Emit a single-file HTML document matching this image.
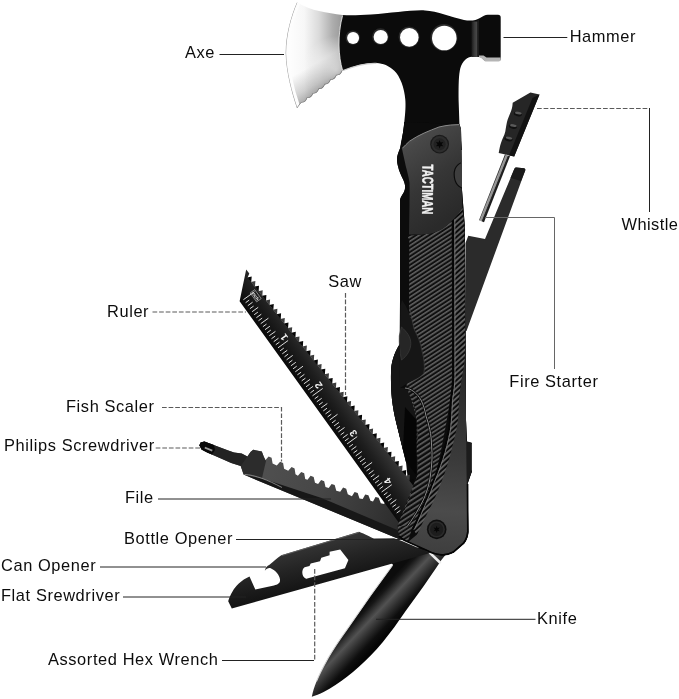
<!DOCTYPE html>
<html><head><meta charset="utf-8">
<style>
html,body{margin:0;padding:0;background:#fff;}
body{width:679px;height:699px;overflow:hidden;position:relative;}
svg{position:absolute;left:0;top:0;display:block;will-change:transform;}
text{font-family:"Liberation Sans",Arial,sans-serif;font-size:16.4px;fill:#0c0c0c;letter-spacing:0.6px;}
.ln{stroke:#222;stroke-width:1;fill:none;}
.ds{stroke:#5a5a5a;stroke-width:1.2;fill:none;stroke-dasharray:4.7 1.9;}
</style></head><body>
<svg width="679" height="699" viewBox="0 0 679 699">
<defs>
<linearGradient id="gBlade" gradientUnits="userSpaceOnUse" x1="286" y1="0" x2="343" y2="0">
<stop offset="0" stop-color="#ffffff"/><stop offset="0.32" stop-color="#f7f7f7"/><stop offset="0.58" stop-color="#dadada"/><stop offset="0.82" stop-color="#adadad"/><stop offset="1" stop-color="#979797"/>
</linearGradient>
<radialGradient id="gBladeR" gradientUnits="userSpaceOnUse" cx="336" cy="70" r="34">
<stop offset="0" stop-color="#fff" stop-opacity="0.85"/><stop offset="0.5" stop-color="#fff" stop-opacity="0.45"/><stop offset="1" stop-color="#fff" stop-opacity="0"/>
</radialGradient>
<pattern id="rib" width="3.6" height="3.6" patternUnits="userSpaceOnUse" patternTransform="rotate(-33)">
<rect width="3.6" height="3.6" fill="#101010"/><rect y="0" width="3.6" height="1.55" fill="#626262"/>
</pattern>
<pattern id="rib3" width="4.2" height="4.2" patternUnits="userSpaceOnUse" patternTransform="rotate(-33)">
<rect width="4.2" height="4.2" fill="#0c0c0c"/><rect y="0" width="4.2" height="1.9" fill="#585858"/>
</pattern>
<pattern id="rib2" width="3.8" height="3.8" patternUnits="userSpaceOnUse" patternTransform="rotate(-42)">
<rect width="3.8" height="3.8" fill="#0c0c0c"/><rect y="0" width="3.8" height="1.8" fill="#626262"/>
</pattern>
<linearGradient id="gKnife" gradientUnits="userSpaceOnUse" x1="352" y1="620" x2="377.5" y2="644">
<stop offset="0" stop-color="#0c0c0c"/><stop offset="0.1" stop-color="#161616"/><stop offset="0.38" stop-color="#525252"/><stop offset="0.62" stop-color="#2c2c2c"/><stop offset="0.82" stop-color="#0e0e0e"/><stop offset="1" stop-color="#050505"/>
</linearGradient>
<linearGradient id="gBladeV" gradientUnits="userSpaceOnUse" x1="300" y1="72" x2="318" y2="104">
<stop offset="0" stop-color="#000" stop-opacity="0"/><stop offset="0.5" stop-color="#000" stop-opacity="0.16"/><stop offset="1" stop-color="#000" stop-opacity="0.42"/>
</linearGradient>
<linearGradient id="gPanel" x1="0" y1="0" x2="0.4" y2="1">
<stop offset="0" stop-color="#646464"/><stop offset="0.22" stop-color="#484848"/><stop offset="0.6" stop-color="#363636"/><stop offset="1" stop-color="#2a2a2a"/>
</linearGradient>
<linearGradient id="gPanelB" gradientUnits="userSpaceOnUse" x1="460" y1="380" x2="445" y2="555">
<stop offset="0" stop-color="#2a2a2a"/><stop offset="0.45" stop-color="#3a3a3a"/><stop offset="0.75" stop-color="#4b4b4b"/><stop offset="1" stop-color="#3e3e3e"/>
</linearGradient>
<linearGradient id="gRod" gradientUnits="userSpaceOnUse" x1="491" y1="187" x2="496" y2="189">
<stop offset="0" stop-color="#1c1c1c"/><stop offset="0.22" stop-color="#2a2a2a"/><stop offset="0.4" stop-color="#9c9c9c"/><stop offset="0.68" stop-color="#909090"/><stop offset="0.82" stop-color="#2a2a2a"/><stop offset="1" stop-color="#1c1c1c"/>
</linearGradient>
<linearGradient id="gSaw" gradientUnits="userSpaceOnUse" x1="300" y1="385" x2="328" y2="365">
<stop offset="0" stop-color="#0a0a0a"/><stop offset="0.5" stop-color="#1e1e1e"/><stop offset="1" stop-color="#383838"/>
</linearGradient>
<linearGradient id="gOpener" gradientUnits="userSpaceOnUse" x1="300" y1="545" x2="310" y2="588">
<stop offset="0" stop-color="#363636"/><stop offset="0.5" stop-color="#242424"/><stop offset="1" stop-color="#141414"/>
</linearGradient>
<linearGradient id="gFile" gradientUnits="userSpaceOnUse" x1="262" y1="462" x2="400" y2="520">
<stop offset="0" stop-color="#505050"/><stop offset="0.45" stop-color="#464646"/><stop offset="0.8" stop-color="#363636"/><stop offset="1" stop-color="#2c2c2c"/>
</linearGradient>
<linearGradient id="gStrip" x1="0" y1="0" x2="1" y2="0"><stop offset="0" stop-color="#1a1a1a"/><stop offset="0.5" stop-color="#3a3a3a"/><stop offset="1" stop-color="#4c4c4c"/></linearGradient>
</defs>
<!--LINES-->
<!--TOOLS-->
<g id="tools">
<path fill="#0b0b0b" d="M342.4 15 C350 15.6 360 15.2 371 14.6 C392 13.2 410 9.8 425 10.4 C437 11 452 17 464 19.9 C470 21.2 476 20.6 480 18 C483 16 485 14.7 487.7 14.7 L498 14.7 Q500.7 14.7 500.7 17.5 L500.7 59 Q500.7 61.1 498.5 61.1 L486.3 61.1 C484 61 482 57 479 56.7 L471.5 56.7 C465 57.5 461 64 459.8 70.7 C458.4 78 458.6 90 458.6 100 L459.5 126 L462 150 L400 150 C401 140 404.3 130 404.3 122 C405.5 112 405.8 105 405.3 99.4 C404.5 88 400 76 394.3 70.7 C389 65.5 383 63.6 376.6 63 C365 62.4 352 67 342.4 70.7 C339 60 338 45 339 33 C339.8 26 341 20 342.4 15 Z"/>
<clipPath id="cBlade"><path d="M297 2.2 C304 6.5 312 9.5 319 11 C327 12.8 335 14.2 342.4 15 C340 23 338.6 34 338.8 45 C339 55 340.2 63 342.4 70.7 Q340.4 75.5 336.6 75.3 Q334.6 80.1 330.7 79.8 Q328.8 84.6 324.9 84.4 Q322.9 89.2 319.0 88.9 Q317.1 93.7 313.2 93.5 Q311.2 98.3 307.3 98.0 Q305.4 102.9 301.5 102.6 C300 104 298.6 106.6 297 108.2 C291.5 92 286 72 285.6 53 C285.8 34 291 16 297 2.2 Z"/></clipPath>
<path fill="url(#gBlade)" d="M297 2.2 C304 6.5 312 9.5 319 11 C327 12.8 335 14.2 342.4 15 C340 23 338.6 34 338.8 45 C339 55 340.2 63 342.4 70.7 Q340.4 75.5 336.6 75.3 Q334.6 80.1 330.7 79.8 Q328.8 84.6 324.9 84.4 Q322.9 89.2 319.0 88.9 Q317.1 93.7 313.2 93.5 Q311.2 98.3 307.3 98.0 Q305.4 102.9 301.5 102.6 C300 104 298.6 106.6 297 108.2 C291.5 92 286 72 285.6 53 C285.8 34 291 16 297 2.2 Z"/>
<path fill="url(#gBladeR)" d="M297 2.2 C304 6.5 312 9.5 319 11 C327 12.8 335 14.2 342.4 15 C340 23 338.6 34 338.8 45 C339 55 340.2 63 342.4 70.7 Q340.4 75.5 336.6 75.3 Q334.6 80.1 330.7 79.8 Q328.8 84.6 324.9 84.4 Q322.9 89.2 319.0 88.9 Q317.1 93.7 313.2 93.5 Q311.2 98.3 307.3 98.0 Q305.4 102.9 301.5 102.6 C300 104 298.6 106.6 297 108.2 C291.5 92 286 72 285.6 53 C285.8 34 291 16 297 2.2 Z"/>
<path fill="url(#gBladeV)" d="M297 2.2 C304 6.5 312 9.5 319 11 C327 12.8 335 14.2 342.4 15 C340 23 338.6 34 338.8 45 C339 55 340.2 63 342.4 70.7 Q340.4 75.5 336.6 75.3 Q334.6 80.1 330.7 79.8 Q328.8 84.6 324.9 84.4 Q322.9 89.2 319.0 88.9 Q317.1 93.7 313.2 93.5 Q311.2 98.3 307.3 98.0 Q305.4 102.9 301.5 102.6 C300 104 298.6 106.6 297 108.2 C291.5 92 286 72 285.6 53 C285.8 34 291 16 297 2.2 Z"/>
<g clip-path="url(#cBlade)"><path fill="none" stroke="#fdfdfd" stroke-width="7" d="M297 2.2 C291 16 285.8 34 285.6 53 C286 72 291.5 92 297 108.2"/><path fill="none" stroke="#9a9a9a" stroke-width="1" d="M297 2.2 C291 16 285.8 34 285.6 53 C286 72 291.5 92 297 108.2"/><path fill="none" stroke="#777" stroke-width="1.2" d="M342.4 70.7 Q340.4 75.5 336.6 75.3 Q334.6 80.1 330.7 79.8 Q328.8 84.6 324.9 84.4 Q322.9 89.2 319.0 88.9 Q317.1 93.7 313.2 93.5 Q311.2 98.3 307.3 98.0 Q305.4 102.9 301.5 102.6 C300 104 298.6 106.6 297 108.2"/></g>
<path fill="none" stroke="#cfcfcf" stroke-width="1.1" d="M343 70.5 C352 67 365 62.8 376.6 63.4"/>
<path fill="none" stroke="#e8e8e8" stroke-width="0.9" d="M342.6 15.5 C340 25 338.8 36 339 45 C339.2 55 340.4 63 342.6 70.4"/>
<circle cx="352.8" cy="37.7" r="7.2" fill="#2a2a2a"/>
<circle cx="353.1" cy="38.1" r="6.0" fill="#fff"/>
<circle cx="380.4" cy="36.6" r="8.299999999999999" fill="#2a2a2a"/>
<circle cx="380.7" cy="37.0" r="7.1" fill="#fff"/>
<circle cx="409" cy="37" r="10.5" fill="#2a2a2a"/>
<circle cx="409.3" cy="37.4" r="9.3" fill="#fff"/>
<circle cx="444" cy="37.6" r="13.5" fill="#2a2a2a"/>
<circle cx="444.3" cy="38.0" r="12.3" fill="#fff"/>
<rect x="471.5" y="21.5" width="6" height="35.5" fill="url(#gStrip)"/>
<rect x="477.5" y="20" width="1.6" height="37" fill="#1c1c1c"/>
<path fill="#b5b5b5" d="M479 55.5 L483.5 55.5 L486.5 57.5 L500.7 57.5 L500.7 59.5 Q500.7 61.6 498.5 61.6 L486.3 61.6 C484 61.5 482 57.5 479 57.2 Z"/>
<path fill="#0a0a0a" d="M404.3 122 C403.5 131 402 140 400.6 147 C398.5 152 396.8 156 397 160 C397.2 164 398 166 399 170 C400.5 175 403.5 179 404.5 183 C405.4 186 405.4 189 404 192 C402.5 195 400.4 197 400 200 L400 300 L399.8 344 C394 353 391 363 391 373 C390.8 382 391.2 391 392 399.4 C393 408 394.6 416 396.5 423.7 L403 450 L417.5 456 L417.5 475 L397.7 525.3 L398.9 536 L404.8 540.6 L415.4 545.3 L426 550 L432 552.9 C436 554.6 440 555.6 443.3 555.4 C447 555 450.5 554 453.6 552.5 L464 543.6 C466.5 540.5 468.2 536 468.4 531.9 L467.5 484 L472 471 L472 443 L467 442 L466 420 L465.5 300 L464.8 226 L462 190 L461 129.5 L459.5 124.3 Z"/>
<path fill="#0a0a0a" d="M396.5 423 L403 450 L406 462 L410 500 L420 500 L420 423 Z"/>
<path fill="#2b2b2b" d="M516.3 167.6 L524 168.2 Q525.8 168.6 525.2 170.4 L466.5 331 L465.5 331 L465.5 243 L468.3 235.8 L485 239 L514.3 169 Q515 167.5 516.3 167.6 Z"/>
<path fill="#1a1a1a" d="M516.3 167.6 L524 168.2 Q525.8 168.6 525.2 170.4 L521 181 L510.5 178 L514.3 169 Q515 167.5 516.3 167.6 Z"/>
<path fill="url(#gRod)" d="M505 154.2 L510 156.2 L484 222.3 L479 220.3 Z"/>
<path fill="#262626" d="M530.4 92.5 L539.5 94.4 L514.2 156.6 L498.7 152.9 C499.5 149 500 146 500.9 143.3 C502 139 504.5 135.5 505.3 131.5 C506 127.5 506.5 123.5 507.6 119.8 C509 115.5 511 112 512 108 C512.5 106 512.5 104.5 512.7 102.8 Z"/>
<path fill="#121212" d="M539.5 94.4 L514.2 156.6 L509 155.4 L532.5 98 Z"/>
<ellipse cx="517.9" cy="113.9" rx="4.2" ry="2.3" fill="#111" transform="rotate(12 517.9 113.9)"/>
<ellipse cx="518.1999999999999" cy="113.0" rx="3.4" ry="1.3" fill="#5a5a5a" transform="rotate(12 517.9 113.9)"/>
<ellipse cx="512.9" cy="126.4" rx="4.2" ry="2.3" fill="#111" transform="rotate(12 512.9 126.4)"/>
<ellipse cx="513.1999999999999" cy="125.5" rx="3.4" ry="1.3" fill="#5a5a5a" transform="rotate(12 512.9 126.4)"/>
<ellipse cx="508.5" cy="138.9" rx="4.2" ry="2.3" fill="#111" transform="rotate(12 508.5 138.9)"/>
<ellipse cx="508.8" cy="138.0" rx="3.4" ry="1.3" fill="#5a5a5a" transform="rotate(12 508.5 138.9)"/>
<path fill="url(#gKnife)" d="M393 564.7 L384 556 L432 544 L447 553 L441.4 560 C434 571 426 583 417.8 594.2 C410 605 402 616 394.3 627.2 C387 637 379 647 370.7 655.5 C363 663.5 355 670.5 347 676.7 C339.5 682.5 331.5 688 323.6 692 C319.5 694 315.5 695.6 311.8 696.7 C312.8 691.5 314.5 686.5 316.5 681.4 C319.8 673 324 665.5 328.3 657.8 C334 648 340.5 638.5 347 629.5 C355 618 363 606.5 370.7 595.4 Z"/>
<path fill="none" stroke="#d8d8d8" stroke-width="1.1" d="M392.6 565.2 L370.4 595.8 C363 606.5 355 618 347 629.5 C340.5 638.5 334 648 328.3 657.8 C324 665.5 319.8 673 316.5 681.4"/>
<path fill="#ececec" d="M428.5 553.2 L431 552.3 L441.5 562 L439.8 564.2 Z"/>
<path fill="url(#gOpener)" fill-rule="evenodd" d="M359 531.8 C362 533 365 534.4 367 535.3 C370 536.8 372 538 374 538.6 L394 538.3 L402 541 L430 553 L231.8 608.4 L228.2 601.3 C230 595 234 588 238.8 583.6 C242 580.6 245.5 578.4 249.5 576.6 L255.3 589.5 L274 585.4 C278 584.6 280.4 583 280 579.6 C279.6 575 275.5 570.6 270.7 568.3 C268.6 567.6 266.6 568.6 264.8 570.7 C265.4 567.8 267 565.8 269.5 564.8 C273 562 277 558.2 281.3 555.3 Z M302.5 570.7 C301.8 573.5 303 577 305.2 578.2 C306 578.8 306.6 578.7 307.2 578.4 L344.9 568.3 L348.4 560 L340.2 549.5 L329.6 551.8 L329.6 555.3 L321.3 557.7 L320 561.2 L310.7 563.6 L309.5 566 L304.6 567.3 C303.4 568 302.8 569.4 302.5 570.7 Z"/>
<path fill="none" stroke="#666" stroke-width="0.8" d="M281.8 555.6 L359 532.4"/>
<path fill="url(#gFile)" d="M247.4 456.4 L250.5 452.0 L253.2 449.7 L261.8 451.6 L263.7 456.4 L265.3 460.3 L268.6 456.5 L271.6 457.8 L272.6 463.6 L276.8 465.4 L280.1 461.7 L283.1 463.0 L284.1 468.8 L288.2 470.7 L291.6 467.0 L294.6 468.5 L295.5 474.2 L297.9 475.7 L301.2 471.9 L304.2 473.2 L305.2 479.0 L307.5 479.7 L310.6 475.7 L313.7 477.0 L315.0 482.7 L318.1 484.0 L321.1 480.1 L324.2 481.3 L325.5 486.9 L328.7 488.1 L331.6 484.1 L334.7 485.1 L336.3 490.7 L340.2 491.7 L343.1 487.6 L346.2 488.7 L347.8 494.3 L351.9 496.3 L354.6 492.1 L357.7 493.1 L359.5 498.6 L362.7 498.9 L365.2 494.6 L368.4 495.3 L370.5 500.7 L373.0 501.4 L375.5 497.0 L378.7 497.8 L380.8 503.2 L384.1 503.9 L386.5 499.6 L389.8 500.3 L391.9 505.7 L406.0 533.0 L406.0 541.0 L400.0 539.5 L243.6 474.6 L240.7 466.0 L231.2 463.0 L218.7 457.4 L207.2 452.6 L201.5 449.4 L199.4 445.2 L200.6 442.4 L204.4 441.6 L228.3 450.6 L234.0 452.5 L241.7 453.5 Z"/>
<path fill="#171717" d="M243.6 474.6 L400 539.5 L406 541 L406 534 L399 530.7 L330 501.5 L320 497.6 L282 485 L262 478.5 Z"/>
<path fill="#232323" d="M199.4 445.2 L200.6 442.4 L204.4 441.6 L228.3 450.6 L234 452.5 L241.7 453.5 L247.4 456.4 L243 466 L240.7 466 L231.2 463 L218.7 457.4 L207.2 452.6 L201.5 449.4 Z"/>
<path fill="#080808" d="M199.4 445.2 L200.6 442.4 L204.4 441.6 L214 445 L215 450 L212 454.6 L207.2 452.6 L201.5 449.4 Z"/>
<path fill="#9a9a9a" d="M205 446.8 L212.6 449.8 L212 451.4 L204.6 448.4 Z"/>
<path fill="#2c2c2c" d="M247.4 456.4 L250.5 452 L253.2 449.7 L261.8 451.6 L263.7 456.4 L266 461 L262 478 L243.6 474.6 L240.7 466 Z"/>
<path fill="none" stroke="#8c8c8c" stroke-width="0.9" d="M244.5 474.4 C255 475 268 480 282 487.5"/>
<path fill="url(#gSaw)" d="M246.2 269.6 L249.3 273.5 L247.6 277.4 L416.7 489.2 L405.9 532.6 L239.6 301.2 Z"/>
<path fill="#070707" d="M247.2 277.4L251.7 276.5L251.2 282.5ZM254.5 286.6L259.0 285.7L258.6 291.7ZM261.9 295.8L266.4 294.9L266.0 300.9ZM269.3 305.1L273.8 304.1L273.3 310.1ZM276.6 314.3L281.1 313.3L280.7 319.4ZM284.0 323.5L288.5 322.6L288.0 328.6ZM291.3 332.7L295.8 331.8L295.4 337.8ZM298.7 341.9L303.2 341.0L302.8 347.0ZM306.1 351.2L310.6 350.2L310.1 356.2ZM313.4 360.4L317.9 359.5L317.5 365.5ZM320.8 369.6L325.3 368.7L324.8 374.7ZM328.2 378.8L332.7 377.9L332.2 383.9ZM335.5 388.1L340.0 387.1L339.6 393.1ZM342.9 397.3L347.4 396.3L346.9 402.4ZM350.2 406.5L354.7 405.6L354.3 411.6ZM357.6 415.7L362.1 414.8L361.7 420.8ZM365.0 424.9L369.5 424.0L369.0 430.0ZM372.3 434.2L376.8 433.2L376.4 439.2ZM379.7 443.4L384.2 442.4L383.7 448.5ZM387.0 452.6L391.5 451.7L391.1 457.7ZM394.4 461.8L398.9 460.9L398.5 466.9ZM401.8 471.1L406.3 470.1L405.8 476.1ZM409.1 480.3L413.6 479.3L413.2 485.4Z"/>
<path fill="#3c3c3c" d="M250.9 282.0L255.4 281.1L254.9 287.1ZM258.2 291.2L262.7 290.3L262.3 296.3ZM265.6 300.4L270.1 299.5L269.6 305.5ZM272.9 309.7L277.4 308.7L277.0 314.8ZM280.3 318.9L284.8 318.0L284.4 324.0ZM287.7 328.1L292.2 327.2L291.7 333.2ZM295.0 337.3L299.5 336.4L299.1 342.4ZM302.4 346.6L306.9 345.6L306.4 351.6ZM309.8 355.8L314.2 354.8L313.8 360.9ZM317.1 365.0L321.6 364.1L321.2 370.1ZM324.5 374.2L329.0 373.3L328.5 379.3ZM331.8 383.4L336.3 382.5L335.9 388.5ZM339.2 392.7L343.7 391.7L343.3 397.7ZM346.6 401.9L351.1 401.0L350.6 407.0ZM353.9 411.1L358.4 410.2L358.0 416.2ZM361.3 420.3L365.8 419.4L365.3 425.4ZM368.6 429.6L373.1 428.6L372.7 434.6ZM376.0 438.8L380.5 437.8L380.1 443.9ZM383.4 448.0L387.9 447.1L387.4 453.1ZM390.7 457.2L395.2 456.3L394.8 462.3ZM398.1 466.4L402.6 465.5L402.1 471.5ZM405.5 475.7L409.9 474.7L409.5 480.7ZM412.8 484.9L417.3 483.9L416.9 490.0Z"/>
<path stroke="#e6e6e6" stroke-width="0.95" fill="none" d="M243.4 299.7L253.6 292.4M245.6 302.7L249.2 300.1M247.8 305.7L252.6 302.2M249.9 308.7L253.6 306.1M252.1 311.7L258.2 307.3M254.2 314.7L257.9 312.1M256.4 317.7L261.3 314.2M258.5 320.7L262.2 318.1M260.7 323.7L268.4 318.2M262.9 326.7L266.5 324.1M265.0 329.7L269.9 326.2M267.2 332.7L270.8 330.1M269.3 335.7L275.4 331.4M271.5 338.7L275.2 336.1M273.7 341.7L278.5 338.2M275.8 344.7L279.5 342.1M278.0 347.8L288.1 340.5M280.1 350.8L283.8 348.1M282.3 353.8L287.2 350.3M284.5 356.8L288.1 354.1M286.6 359.8L292.7 355.4M288.8 362.8L292.4 360.2M290.9 365.8L295.8 362.3M293.1 368.8L296.7 366.2M295.3 371.8L303.0 366.2M297.4 374.8L301.1 372.2M299.6 377.8L304.4 374.3M301.7 380.8L305.4 378.2M303.9 383.8L310.0 379.4M306.0 386.8L309.7 384.2M308.2 389.8L313.1 386.3M310.4 392.8L314.0 390.2M312.5 395.8L322.7 388.5M314.7 398.8L318.3 396.2M316.8 401.8L321.7 398.3M319.0 404.8L322.7 402.2M321.2 407.8L327.3 403.5M323.3 410.9L327.0 408.2M325.5 413.9L330.4 410.4M327.6 416.9L331.3 414.2M329.8 419.9L337.5 414.3M332.0 422.9L335.6 420.2M334.1 425.9L339.0 422.4M336.3 428.9L339.9 426.3M338.4 431.9L344.5 427.5M340.6 434.9L344.2 432.3M342.8 437.9L347.6 434.4M344.9 440.9L348.6 438.3M347.1 443.9L357.2 436.6M349.2 446.9L352.9 444.3M351.4 449.9L356.3 446.4M353.5 452.9L357.2 450.3M355.7 455.9L361.8 451.5M357.9 458.9L361.5 456.3M360.0 461.9L364.9 458.4M362.2 464.9L365.8 462.3M364.3 467.9L372.1 462.4M366.5 470.9L370.2 468.3M368.7 474.0L373.5 470.4M370.8 477.0L374.5 474.3M373.0 480.0L379.1 475.6M375.1 483.0L378.8 480.3M377.3 486.0L382.2 482.5M379.5 489.0L383.1 486.3M381.6 492.0L391.8 484.7M383.8 495.0L387.4 492.4M385.9 498.0L390.8 494.5M388.1 501.0L391.7 498.4M390.3 504.0L396.3 499.6M392.4 507.0L396.1 504.4M394.6 510.0L399.4 506.5M396.7 513.0L400.4 510.4"/>
<text transform="translate(284.1 337.2) rotate(-125.7)" text-anchor="middle" y="3.5" style="font-size:10px;font-weight:bold;fill:#f4f4f4;letter-spacing:0">1</text>
<text transform="translate(318.6 385.3) rotate(-125.7)" text-anchor="middle" y="3.5" style="font-size:10px;font-weight:bold;fill:#f4f4f4;letter-spacing:0">2</text>
<text transform="translate(353.2 433.4) rotate(-125.7)" text-anchor="middle" y="3.5" style="font-size:10px;font-weight:bold;fill:#f4f4f4;letter-spacing:0">3</text>
<text transform="translate(387.7 481.4) rotate(-125.7)" text-anchor="middle" y="3.5" style="font-size:10px;font-weight:bold;fill:#f4f4f4;letter-spacing:0">4</text>
<g transform="translate(255.5 295.9) rotate(54.3)"><rect x="-5.5" y="-3" width="11" height="5.6" fill="none" stroke="#ddd" stroke-width="0.5"/><text text-anchor="middle" y="1.6" style="font-size:4.6px;font-weight:bold;fill:#eee;letter-spacing:0">inch</text></g>
<path fill="#0c0c0c" d="M404.3 122 C403.5 131 402 140 400.6 147 C398.5 152 396.8 156 397 160 C397.2 164 398 166 399 170 C400.5 175 403.5 179 404.5 183 C405.4 186 405.4 189 404 192 C402.5 195 400.4 197 400 200 L400 300 L399.8 344 C394 353 391 363 391 373 C390.8 382 391.2 391 392 399.4 C393 408 394.6 416 396.5 423.7 L403 450 L417.5 456 L417.5 475 L397.7 525.3 L398.9 536 L404.8 540.6 L415.4 545.3 L426 550 L432 552.9 C436 554.6 440 555.6 443.3 555.4 C447 555 450.5 554 453.6 552.5 L464 543.6 C466.5 540.5 468.2 536 468.4 531.9 L467.5 484 L472 471 L472 443 L467 442 L466 420 L465.5 300 L464.8 226 L462 190 L461 129.5 L459.5 124.3 Z"/>
<path fill="#1c1c1c" d="M466 441 L472 443 L472 471 L467 484 Z"/>
<path fill="none" stroke="#444" stroke-width="0.7" d="M471.5 443.5 L471.5 470.5"/>
<path fill="url(#gPanelB)" d="M465.3 340 L466 420 L466.8 484 L467 531.5 C466.8 535.5 465.4 539.5 463 542.6 L453 551.2 C450 552.8 446.8 553.8 443.3 554 C440 554.2 436.5 553.6 432 552 L415.4 545.3 L408 542 L416.8 534.8 C430 500 450 440 459 400 Z"/>
<path fill="url(#rib)" d="M407.5 236 C415 235 425 234.5 433 233 C440 231 447 226 451.6 221 L452 300 L452 377 C451.5 395 448 415 444 435 C441 452 437 470 432 486 C428 500 420 516 412 528 L408 542 L404.8 540.6 L398.9 536 L397.7 525.3 L417.5 475 L417.5 456 L404.5 449 L409 320 L409.3 240 Z"/>
<path fill="url(#rib2)" d="M453.3 219 L453.5 377 C453.3 385 452.3 392 451 400 C450.6 410 450.2 420 449 429.5 C447 440 444.5 450 441.5 459 C439 467 436 475 432.7 482.5 C430 490 427 498 423.5 505 C420.5 512 417 521 413 529 L416.8 534.8 C420 529 422 524 424.5 519 C428 512 431 506 434 500 C438 491 441.5 482 444.5 473.6 C447.5 465 450 457 451.9 448.6 C454 440 456.5 431 457.7 422 C458.6 415 458.6 407 459 400 C460 388 462 376 464 366 C465 358 465.3 348 465.3 340 L464.8 300 L464.4 226 L462.5 208 Z"/>
<path fill="none" stroke="#050505" stroke-width="2" d="M453.3 219 L453.5 377 C453.3 385 452.3 392 451 400 C450.6 410 450.2 420 449 429.5 C447 440 444.5 450 441.5 459 C439 467 436 475 432.7 482.5 C430 490 427 498 423.5 505 C420.5 512 417 521 413 529"/>
<path fill="none" stroke="#7a7a7a" stroke-width="0.9" transform="translate(1.5 0.3)" d="M453.3 219 L453.5 377 C453.3 385 452.3 392 451 400 C450.6 410 450.2 420 449 429.5 C447 440 444.5 450 441.5 459 C439 467 436 475 432.7 482.5 C430 490 427 498 423.5 505 C420.5 512 417 521 413 529"/>
<path fill="#161616" d="M402 300 C409 310 412 321 414 328.7 C417.5 336 421 343 422 350.8 C424 358 425 366 424 373 C420 378 413 380.5 406 384 L400 388 L399.8 344 L400.5 306 Z"/>
<path fill="none" stroke="#3a3a3a" stroke-width="0.8" d="M409.3 306 C411 314 412.5 321 414 328.7 C417.5 336 421 343 422 350.8 C424 358 425 366 424 373"/>
<path fill="#262626" stroke="#3c3c3c" stroke-width="0.7" d="M401.5 327 C407 332 410.8 337 410.8 343.5 C410.8 350 407 356 401.5 360 C399.6 352 399 343 399.3 335.8 Z"/>
<path fill="#151515" d="M399.8 344 C394 353 391 363 391 373 C390.8 382 391.2 391 392 399.4 C393 408 394.6 416 396.5 423.7 L403 450 L406 462 L416.5 476 L416.5 420 C415 410 411 398 406.5 388 L400 388 Z"/>
<path fill="#050505" d="M405 407 L416.5 420 L416.5 476 L406 462 L403 450 Z"/>
<path fill="url(#rib3)" d="M405 388 C411 388.5 417 393 421 400 C423.5 405 425 410.5 426 416 C427.5 420.5 429 425 429.8 429.5 C431 435 431.5 441 431.6 446 C432 450 432.2 455 432 459 C431.8 464 431.2 470 430.5 475 C429.8 480.5 428.5 486 426.8 491 C425 497 422 503 419 508 C415.5 514.5 411.5 520.5 407.5 526 L398.7 526 L417.5 476 L417.5 420 C416 410 412 398 407.5 389 Z"/>
<path fill="none" stroke="#0a0a0a" stroke-width="2.4" d="M405 388 C411 388.5 417 393 421 400 C423.5 405 425 410.5 426 416 C427.5 420.5 429 425 429.8 429.5 C431 435 431.5 441 431.6 446 C432 450 432.2 455 432 459 C431.8 464 431.2 470 430.5 475 C429.8 480.5 428.5 486 426.8 491 C425 497 422 503 419 508 C415.5 514.5 411.5 520.5 407.5 526"/>
<path fill="none" stroke="#8c8c8c" stroke-width="1" d="M405 388 C411 388.5 417 393 421 400 C423.5 405 425 410.5 426 416 C427.5 420.5 429 425 429.8 429.5 C431 435 431.5 441 431.6 446 C432 450 432.2 455 432 459 C431.8 464 431.2 470 430.5 475 C429.8 480.5 428.5 486 426.8 491 C425 497 422 503 419 508 C415.5 514.5 411.5 520.5 407.5 526"/>
<path fill="url(#gPanel)" d="M402 148.6 C404.5 146 407 143.5 409.5 141.2 C414 138 419 135.4 424.2 133 C429 131 434 128.8 439 127 C443 126 447 125.4 450.7 125 L459.5 124.3 L461 129.5 L461.7 162 C456 164 453.4 169 453.6 175 C453.8 181.5 456.5 186.5 461.7 188.4 L462.3 208 C459 213 455 218 451.6 221 C447 226 440 231 433 233 C425 234.5 417 234.8 409 234.5 L409.5 205 C409.5 197 409.8 190 409.5 182.5 C408.5 176 407 171 405.8 166.3 C404.5 160 403 154 402 148.6 Z"/>
<path fill="none" stroke="#8a8a8a" stroke-width="1" d="M402.4 148.2 C404.5 146 407 143.5 409.5 141.2 C414 138 419 135.4 424.2 133 C429 131 434 128.8 439 127 C443 126 447 125.4 450.7 125 L459.3 124.6"/>
<path fill="#3e3e3e" d="M462 163 C456.6 165 454.6 169.6 454.8 175 C455 181 457.4 185.6 462 187.4 Z"/>
<circle cx="439.6" cy="144.2" r="9.4" fill="#1a1a1a"/><circle cx="439.6" cy="144.2" r="8.2" fill="#2d2d2d"/><circle cx="439.6" cy="144.2" r="6" fill="#222"/>
<polygon fill="#060606" points="439.60,140.00 440.60,142.47 443.24,142.10 441.60,144.20 443.24,146.30 440.60,145.93 439.60,148.40 438.60,145.93 435.96,146.30 437.60,144.20 435.96,142.10 438.60,142.47"/>
<text transform="translate(422.6 164.6) rotate(90.6) scale(0.625 1)" style="font-weight:bold;font-size:15.4px;fill:#f2f2f2;stroke:#f2f2f2;stroke-width:0.5;letter-spacing:0">TACTIMAN</text>
<path fill="none" stroke="#050505" stroke-width="1.6" d="M467.6 484 L467.8 531.5 C467.6 536 466 540 463.6 543.2 L453.4 552 C450.4 553.6 447 554.6 443.3 554.8 C440 555 436 554.4 431.7 552.8 L426 550 L415.4 545.3 L404.8 540.6 L398.9 536"/>
<circle cx="436.7" cy="529.4" r="9.8" fill="#0e0e0e"/><circle cx="436.7" cy="529.4" r="8.2" fill="#2a2a2a"/><circle cx="436.7" cy="529.4" r="6.6" fill="#1d1d1d"/>
<polygon fill="#050505" points="436.70,525.80 437.50,528.01 439.82,527.60 438.30,529.40 439.82,531.20 437.50,530.79 436.70,533.00 435.90,530.79 433.58,531.20 435.10,529.40 433.58,527.60 435.90,528.01"/>
</g><!--ENDTOOLS-->
<g id="lines">
<path class="ln" d="M219.5 54.5H284"/>
<path class="ln" d="M503.5 37.5H567.3"/>
<path class="ds" d="M537 108.5H649"/>
<path class="ln" stroke="#555" d="M649.5 108V212"/>
<path class="ln" style="stroke:#666" d="M485 217.5H554.5V369"/>
<path class="ds" d="M345.5 293V395"/>
<path class="ds" d="M152.5 312H246"/>
<path class="ds" d="M162 407.5H281.5V461.5"/>
<path class="ds" d="M155.7 448H200"/>
<path class="ln" d="M158 499H331"/>
<path class="ln" d="M236 539.5H400"/>
<path class="ln" d="M100 567H266"/>
<path class="ln" d="M123 597H246"/>
<path class="ln" d="M222 660.5H314"/>
<path class="ds" d="M314.7 569V660"/>
<path class="ln" d="M376 619.3H535.5"/>
</g>
<!--LABELS-->
<g id="labels">
<text x="185" y="58">Axe</text>
<text x="569.7" y="42">Hammer</text>
<text x="621.5" y="230" textLength="57" lengthAdjust="spacing">Whistle</text>
<text x="509.3" y="387">Fire Starter</text>
<text x="328.2" y="287">Saw</text>
<text x="107" y="317">Ruler</text>
<text x="66" y="412">Fish Scaler</text>
<text x="4" y="451">Philips Screwdriver</text>
<text x="125" y="503">File</text>
<text x="124" y="544">Bottle Opener</text>
<text x="1" y="571">Can Opener</text>
<text x="1" y="601">Flat Srewdriver</text>
<text x="48" y="665">Assorted Hex Wrench</text>
<text x="537" y="624">Knife</text>
</g>
</svg>
</body></html>
